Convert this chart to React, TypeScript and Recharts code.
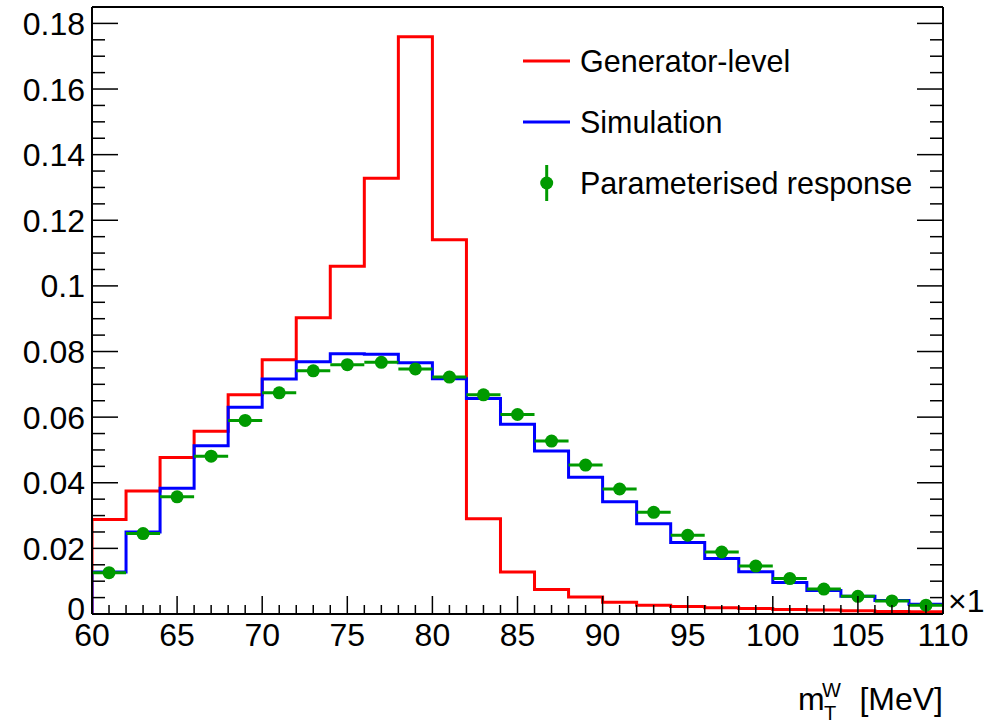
import React from 'react';
import { ComposedChart, Line, Scatter, ErrorBar, XAxis, YAxis, Legend, Label } from 'recharts';

// bin edges of the histograms (2 MeV bins)
const binEdges = [60, 62, 64, 66, 68, 70, 72, 74, 76, 78, 80, 82, 84, 86, 88, 90, 92, 94, 96, 98, 100, 102, 104, 106, 108, 110];

// bin contents, one per bin
const generatorLevel = [0.0288, 0.0375, 0.0477, 0.0557, 0.0668, 0.0775, 0.0903, 0.106, 0.1328, 0.1759, 0.1141, 0.029, 0.0128, 0.0075, 0.0052, 0.0036, 0.0027, 0.0023, 0.0019, 0.0017, 0.0014, 0.0012, 0.001, 0.0008, 0.0007];
const simulation = [0.0128, 0.025, 0.0383, 0.0513, 0.063, 0.0716, 0.0769, 0.0793, 0.0792, 0.0766, 0.0717, 0.0657, 0.0578, 0.0497, 0.0417, 0.0342, 0.0275, 0.0218, 0.0169, 0.0129, 0.0096, 0.0072, 0.0054, 0.0041, 0.003];
const parameterised = [0.0126, 0.0245, 0.0357, 0.0481, 0.059, 0.0674, 0.0741, 0.076, 0.0767, 0.0747, 0.0722, 0.0668, 0.0608, 0.0527, 0.0454, 0.0381, 0.031, 0.024, 0.0189, 0.0146, 0.0108, 0.0076, 0.0054, 0.004, 0.0027];

const xMajorTicks = [60, 65, 70, 75, 80, 85, 90, 95, 100, 105, 110];
const yMajorTicks = [0, 0.02, 0.04, 0.06, 0.08, 0.1, 0.12, 0.14, 0.16, 0.18];

const seriesNames = ['Generator-level', 'Simulation', 'Parameterised response'];
const RED = '#ff0000';
const BLUE = '#0000ff';
const GREEN = '#009a00';
const FONT = '"Liberation Sans", Arial, Helvetica, sans-serif';

const X_DOMAIN: [number, number] = [60, 110];
const Y_DOMAIN: [number, number] = [0, 0.185];

// minor ticks: 1 MeV on x, 0.005 on y
const xAllTicks = Array.from({ length: 51 }, (_, i) => 60 + i);
const yAllTicks = Array.from({ length: 37 }, (_, i) => +(i * 0.005).toFixed(3));
const isYMajor = (v: number) => yMajorTicks.some((t) => Math.abs(t - v) < 1e-9);

// histogram outline for a stepAfter line, starting from zero at the low edge
const toSteps = (values: number[]) => [
  { x: binEdges[0], y: 0 },
  ...values.map((v, i) => ({ x: binEdges[i], y: v })),
  { x: binEdges[binEdges.length - 1], y: values[values.length - 1] },
];

const genSteps = toSteps(generatorLevel);
const simSteps = toSteps(simulation);
const paramPoints = parameterised.map((v, i) => ({
  x: (binEdges[i] + binEdges[i + 1]) / 2,
  y: v,
  xErr: (binEdges[i + 1] - binEdges[i]) / 2,
}));

const BottomTick = (props: any) => {
  const { x, y, payload } = props;
  const major = xMajorTicks.includes(payload.value);
  return (
    <g>
      <line x1={x} x2={x} y1={y} y2={y - (major ? 18 : 9)} stroke="#000" strokeWidth={1.5} />
      {major && (
        <text x={x} y={y + 32} textAnchor="middle" fontSize={32} fontFamily={FONT} fill="#000">
          {payload.value}
        </text>
      )}
    </g>
  );
};

const TopTick = (props: any) => {
  const { x, y, payload } = props;
  const major = xMajorTicks.includes(payload.value);
  return <line x1={x} x2={x} y1={y} y2={y + (major ? 18 : 9)} stroke="#000" strokeWidth={1.5} />;
};

const LeftTick = (props: any) => {
  const { x, y, payload } = props;
  const major = isYMajor(payload.value);
  return (
    <g>
      <line x1={x} x2={x + (major ? 26 : 13)} y1={y} y2={y} stroke="#000" strokeWidth={1.5} />
      {major && (
        <text x={x - 7} y={y + (payload.value === 0 ? 6 : 11.5)} textAnchor="end" fontSize={32} fontFamily={FONT} fill="#000">
          {String(payload.value)}
        </text>
      )}
    </g>
  );
};

const RightTick = (props: any) => {
  const { x, y, payload } = props;
  const major = isYMajor(payload.value);
  return <line x1={x} x2={x - (major ? 26 : 13)} y1={y} y2={y} stroke="#000" strokeWidth={1.5} />;
};

const AxisTitle = (props: any) => {
  const vb = props.viewBox || {};
  const right = vb.x + vb.width;
  const top = vb.y;
  return (
    <g fontFamily={FONT} fill="#000">
      <text x={right + 5} y={top - 2} fontSize={32}>×1</text>
      <text x={right - 145} y={top + 96} fontSize={32}>m</text>
      <text x={right - 121} y={top + 83} fontSize={20}>W</text>
      <text x={right - 119} y={top + 106} fontSize={20}>T</text>
      <text x={right} y={top + 96} fontSize={32} textAnchor="end">[MeV]</text>
    </g>
  );
};

const HistLegend = () => (
  <svg width={430} height={200} style={{ display: 'block' }} fontFamily={FONT}>
    {seriesNames.map((name, i) => {
      const cy = 31 + i * 61;
      return (
        <g key={name}>
          {i < 2 ? (
            <line x1={23} x2={70} y1={cy} y2={cy} stroke={i === 0 ? RED : BLUE} strokeWidth={3} />
          ) : (
            <g>
              <line x1={46.7} x2={46.7} y1={cy - 18} y2={cy + 18} stroke={GREEN} strokeWidth={3} />
              <circle cx={46.7} cy={cy} r={6.5} fill={GREEN} />
            </g>
          )}
          <text x={80} y={cy + 11} fontSize={30.5} fill="#000">
            {name}
          </text>
        </g>
      );
    })}
  </svg>
);

const Dot = (props: any) => <circle cx={props.cx} cy={props.cy} r={6.5} fill={GREEN} />;

export default function App() {
  return (
    <div style={{ position: 'absolute', left: 0, top: 0, width: 995, height: 723, background: '#fff' }}>
      <ComposedChart width={995} height={723} margin={{ top: 0, right: 0, bottom: 0, left: 0 }}>
        <XAxis
          xAxisId="x"
          dataKey="x"
          type="number"
          domain={X_DOMAIN}
          allowDataOverflow
          ticks={xAllTicks}
          interval={0}
          height={109}
          tickSize={0}
          tickMargin={0}
          tickLine={false}
          tick={BottomTick}
          axisLine={{ stroke: '#000', strokeWidth: 2 }}
        >
          <Label content={AxisTitle} />
        </XAxis>
        <XAxis
          xAxisId="top"
          orientation="top"
          type="number"
          domain={X_DOMAIN}
          allowDataOverflow
          ticks={xAllTicks}
          interval={0}
          height={7}
          tickSize={0}
          tickMargin={0}
          tickLine={false}
          tick={TopTick}
          axisLine={{ stroke: '#000', strokeWidth: 2 }}
        />
        <YAxis
          yAxisId="y"
          dataKey="y"
          type="number"
          domain={Y_DOMAIN}
          allowDataOverflow
          ticks={yAllTicks}
          interval={0}
          width={92}
          tickSize={0}
          tickMargin={0}
          tickLine={false}
          tick={LeftTick}
          axisLine={{ stroke: '#000', strokeWidth: 2 }}
        />
        <YAxis
          yAxisId="right"
          orientation="right"
          type="number"
          domain={Y_DOMAIN}
          allowDataOverflow
          ticks={yAllTicks}
          interval={0}
          width={52}
          tickSize={0}
          tickMargin={0}
          tickLine={false}
          tick={RightTick}
          axisLine={{ stroke: '#000', strokeWidth: 2 }}
        />
        <Legend
          layout="vertical"
          align="center"
          verticalAlign="middle"
          content={HistLegend}
          wrapperStyle={{ left: 500, top: 30, width: 430, height: 200 }}
        />
        <Line
          xAxisId="x"
          yAxisId="y"
          name={seriesNames[0]}
          data={genSteps}
          dataKey="y"
          type="stepAfter"
          stroke={RED}
          strokeWidth={3}
          dot={false}
          isAnimationActive={false}
        />
        <Line
          xAxisId="x"
          yAxisId="y"
          name={seriesNames[1]}
          data={simSteps}
          dataKey="y"
          type="stepAfter"
          stroke={BLUE}
          strokeWidth={3}
          dot={false}
          isAnimationActive={false}
        />
        <Scatter
          xAxisId="x"
          yAxisId="y"
          name={seriesNames[2]}
          data={paramPoints}
          dataKey="y"
          fill={GREEN}
          shape={Dot}
          isAnimationActive={false}
        >
          <ErrorBar dataKey="xErr" direction="x" width={0} stroke={GREEN} strokeWidth={3} isAnimationActive={false} />
        </Scatter>
      </ComposedChart>
    </div>
  );
}
